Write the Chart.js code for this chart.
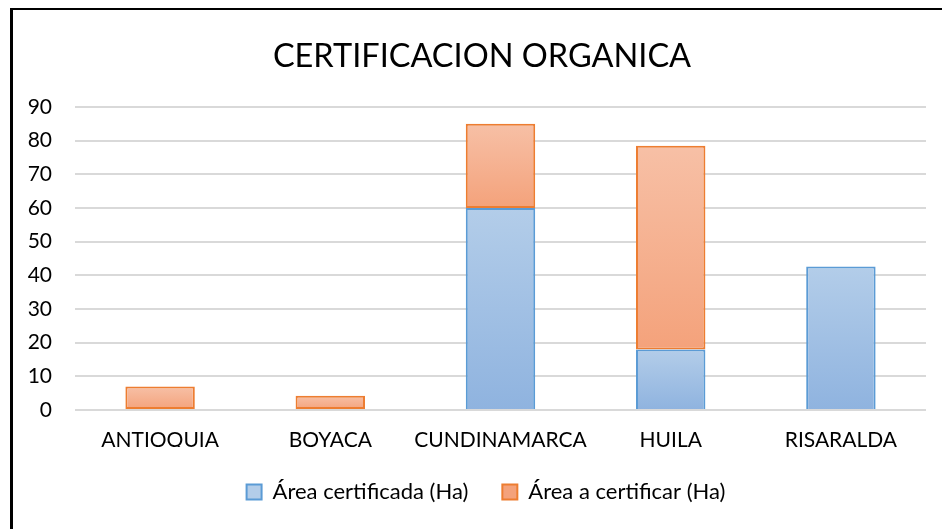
<!DOCTYPE html>
<html>
<head>
<meta charset="utf-8">
<script src="https://cdn.jsdelivr.net/npm/chart.js@4.4.0/dist/chart.umd.min.js"></script>
<style>
  html, body { margin: 0; padding: 0; background: #fff; }
  #wrap { position: relative; width: 942px; height: 529px; overflow: hidden; }
  #frame { position: absolute; left: 10px; top: 8px; width: 960px; height: 560px;
           border-left: 3px solid #000; border-top: 2px solid #000; }
  canvas { position: absolute; left: 0; top: 0; }
</style>
</head>
<body>
<div id="wrap">
  <canvas id="myChart" width="942" height="529"></canvas>
  <div id="frame"></div>
</div>
<script>
const categories = ['ANTIOQUIA', 'BOYACA', 'CUNDINAMARCA', 'HUILA', 'RISARALDA'];
const areaCertificada = [0, 0, 60, 18, 42.6];
const areaACertificar = [7, 4.2, 25, 60.5, 0];
const chartTitle = 'CERTIFICACION ORGANICA';
const seriesNames = ['Área certificada (Ha)', 'Área a certificar (Ha)'];
const allSeries = [areaCertificada, areaACertificar];

// degradado por barra, claro arriba y más oscuro abajo
function barGradient(light, dark) {
  return function (context) {
    const chart = context.chart;
    const area = chart.chartArea;
    if (context.dataIndex === undefined || !area) return light;
    const i = context.dataIndex;
    const ds = context.datasetIndex;
    let base = 0;
    for (let k = 0; k < ds; k++) base += allSeries[k][i];
    const top = base + allSeries[ds][i];
    const yScale = chart.scales.y;
    const y0 = yScale.getPixelForValue(top);
    const y1 = yScale.getPixelForValue(base);
    if (!isFinite(y0) || !isFinite(y1) || y0 === y1) return light;
    const g = chart.ctx.createLinearGradient(0, y0, 0, y1);
    g.addColorStop(0, light);
    g.addColorStop(1, dark);
    return g;
  };
}

// el recuadro original es más ancho que la imagen, título y leyenda quedan algo a la derecha
const shiftBoxes = {
  id: 'shiftBoxes',
  afterLayout(chart) {
    chart.titleBlock.left += 14;
    chart.titleBlock.right += 14;
    chart.legend.left += 18;
    chart.legend.right += 18;
  }
};

const ctx = document.getElementById('myChart').getContext('2d');
const myChart = new Chart(ctx, {
  type: 'bar',
  data: {
    labels: categories,
    datasets: [{
      label: seriesNames[0],
      data: areaCertificada,
      backgroundColor: barGradient('#b3cde9', '#8fb3df'),
      borderColor: '#5b9bd5',
      borderWidth: 2,
      borderSkipped: 'bottom',
      categoryPercentage: 0.8,
      barPercentage: 0.51
    }, {
      label: seriesNames[1],
      data: areaACertificar,
      backgroundColor: barGradient('#f7c0a6', '#f4a27b'),
      borderColor: '#ed7d31',
      borderWidth: 2,
      borderSkipped: false,
      categoryPercentage: 0.8,
      barPercentage: 0.51
    }]
  },
  plugins: [shiftBoxes],
  options: {
    responsive: false,
    animation: false,
    layout: { padding: { left: 10, right: 16, top: 0, bottom: 16 } },
    plugins: {
      title: {
        display: true,
        text: chartTitle,
        color: '#000',
        font: { family: 'Lato', size: 32.5, weight: 'normal' },
        padding: { top: 37, bottom: 31 }
      },
      legend: {
        position: 'bottom',
        labels: {
          color: '#000',
          font: { family: 'Lato', size: 22 },
          boxWidth: 15,
          boxHeight: 15,
          padding: 34
        }
      },
      tooltip: { enabled: false }
    },
    scales: {
      x: {
        stacked: true,
        afterFit: (scale) => { scale.height = 37; },
        grid: { display: false, drawTicks: false },
        border: { display: false },
        ticks: { color: '#000', font: { family: 'Lato', size: 21 }, padding: 18, maxRotation: 0, minRotation: 0, autoSkip: false }
      },
      y: {
        stacked: true,
        min: 0,
        max: 90,
        afterFit: (scale) => { scale.width = 65; },
        ticks: { stepSize: 10, color: '#000', font: { family: 'Lato', size: 21 }, padding: 23 },
        grid: { color: '#d9d9d9', lineWidth: 2, drawTicks: false },
        border: { display: false }
      }
    }
  }
});
</script>
</body>
</html>
